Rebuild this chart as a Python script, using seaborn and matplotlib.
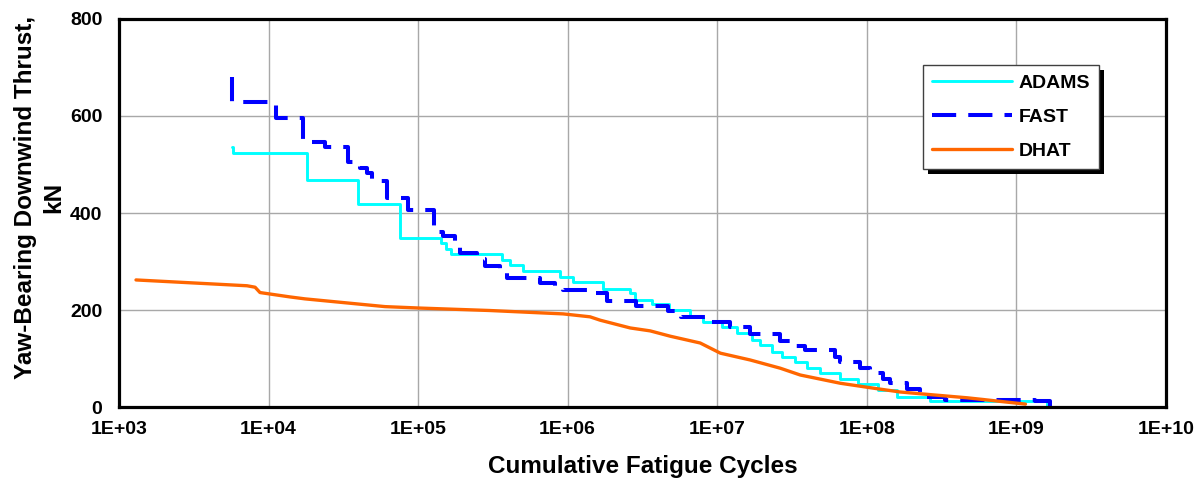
import matplotlib
matplotlib.use("Agg")
import matplotlib.pyplot as plt
import seaborn as sns
from matplotlib.patches import Rectangle
from matplotlib.transforms import IdentityTransform

# ---------------- data ----------------
adams_cycles = [5.70e3, 5.80e3, 1.81e4, 3.97e4, 7.59e4, 1.43e5, 1.54e5, 1.66e5, 3.65e5, 4.12e5,
                5.04e5, 8.90e5, 1.09e6, 1.73e6, 2.62e6, 2.83e6, 3.67e6, 4.77e6, 6.59e6, 8.05e6,
                1.08e7, 1.36e7, 1.71e7, 1.94e7, 2.33e7, 2.72e7, 3.33e7, 4.00e7, 4.89e7, 6.65e7,
                8.78e7, 1.18e8, 1.60e8, 2.66e8, 1.61e9]
adams_thrust = [536, 524, 468, 419, 348, 338, 325, 316, 303, 293,
                280, 268, 258, 243, 235, 221, 212, 200, 186, 175,
                164, 152, 138, 128, 114, 104, 92, 81, 70, 58,
                47, 35, 21, 12, 0]

fast_cycles = [5.70e3, 5.71e3, 1.12e4, 1.70e4, 2.39e4, 3.40e4, 4.09e4, 4.56e4, 4.92e4, 6.21e4,
               8.57e4, 1.28e5, 1.34e5, 1.47e5, 1.77e5, 1.91e5, 2.48e5, 2.81e5, 3.53e5, 3.94e5,
               6.55e5, 8.24e5, 9.33e5, 1.46e6, 1.84e6, 2.87e6, 4.70e6, 5.74e6, 8.32e6, 1.22e7,
               1.66e7, 2.64e7, 3.22e7, 3.88e7, 6.15e7, 6.65e7, 9.06e7, 1.05e8, 1.29e8, 1.44e8,
               1.87e8, 2.28e8, 3.35e8, 1.34e9, 1.69e9]
fast_thrust = [680, 629, 596, 546, 536, 505, 493, 482, 466, 431,
               406, 371, 361, 352, 334, 317, 305, 291, 278, 266,
               256, 248, 241, 235, 219, 208, 198, 186, 175, 165,
               150, 136, 126, 117, 104, 93, 81, 70, 58, 49,
               37, 21, 14, 12, 0]

dhat_cycles = [1.30e3, 7.18e3, 8.13e3, 8.77e3, 1.39e4, 1.75e4, 6.01e4, 1.03e5, 3.0e5, 9.33e5,
               1.41e6, 1.65e6, 2.62e6, 3.56e6, 4.85e6, 7.69e6, 1.05e7, 1.66e7, 2.64e7, 3.59e7,
               6.65e7, 1.10e8, 1.67e8, 2.79e8, 4.70e8, 1.15e9]
dhat_thrust = [262, 250, 247, 236, 227, 223, 207, 204, 199, 192,
               186, 179, 163, 157, 146, 132, 111, 97, 80, 66,
               49, 39, 31, 25, 19, 6]

series_labels = ["ADAMS", "FAST", "DHAT"]
x_ticks = [1e3, 1e4, 1e5, 1e6, 1e7, 1e8, 1e9, 1e10]
x_tick_labels = ["1E+03", "1E+04", "1E+05", "1E+06", "1E+07", "1E+08", "1E+09", "1E+10"]
y_ticks = [0, 200, 400, 600, 800]
x_label = "Cumulative Fatigue Cycles"
y_label = "Yaw-Bearing Downwind Thrust,\nkN"

# ---------------- style ----------------
sns.set_theme(style="white")
plt.rcParams['font.family'] = ['Liberation Sans', 'DejaVu Sans']
plt.rcParams['font.weight'] = 'bold'
plt.rcParams['text.color'] = 'black'
plt.rcParams['axes.labelcolor'] = 'black'

FS = 14
LFS = 17.5

fig = plt.figure(figsize=(12.04, 4.83), dpi=100)
ax = fig.add_axes([0.0988, 0.1573, 0.8696, 0.8034])

sns.lineplot(x=adams_cycles, y=adams_thrust, ax=ax, color="#00FFFF", lw=2.1,
             drawstyle="steps-post", estimator=None, sort=False, label=series_labels[0])
sns.lineplot(x=fast_cycles, y=fast_thrust, ax=ax, color="#0000FF", lw=2.9,
             drawstyle="steps-post", estimator=None, sort=False, label=series_labels[1],
             linestyle=(0, (6, 3)))
sns.lineplot(x=dhat_cycles, y=dhat_thrust, ax=ax, color="#FF6600", lw=2.4,
             estimator=None, sort=False, label=series_labels[2])

ax.set_xscale("log")
ax.set_xlim(x_ticks[0], x_ticks[-1])
ax.set_ylim(y_ticks[0], y_ticks[-1])
ax.set_xticks(x_ticks)
ax.set_xticklabels(x_tick_labels)
ax.xaxis.set_minor_locator(matplotlib.ticker.NullLocator())
ax.set_yticks(y_ticks)
ax.set_yticklabels([str(v) for v in y_ticks])
ax.tick_params(axis="both", length=0, labelsize=FS, colors="black")
ax.tick_params(axis="x", pad=10)
ax.tick_params(axis="y", pad=12)
for lab in ax.get_xticklabels() + ax.get_yticklabels():
    lab.set_fontweight("bold")

ax.grid(True, which="major", color="#A8A8A8", lw=1.0)
ax.set_axisbelow(True)
for sp in ax.spines.values():
    sp.set_color("black")
    sp.set_linewidth(2.3)
    sp.set_zorder(3)

ax.set_xlabel(x_label, fontsize=LFS, fontweight="bold", va="center", color="black")
ax.xaxis.set_label_coords(0.5, -0.152)
ax.set_ylabel(y_label, fontsize=LFS, fontweight="bold", va="center", linespacing=1.3, color="black")
ax.yaxis.set_label_coords(-0.0754, 0.539)

leg = ax.legend(loc="upper left", bbox_to_anchor=(0.768, 0.881), borderaxespad=0,
                fontsize=FS, frameon=True, fancybox=False, framealpha=1,
                edgecolor="#404040", handlelength=4.1, handletextpad=0.35,
                labelspacing=0.85, borderpad=0.45)
leg.get_frame().set_linewidth(1.0)
for t in leg.get_texts():
    t.set_fontweight("bold")
    t.set_color("black")

fig.canvas.draw()
bb = leg.get_window_extent(fig.canvas.get_renderer())
shadow = Rectangle((bb.x0 + 5, bb.y0 - 5), bb.width, bb.height, transform=IdentityTransform(),
                   facecolor="black", edgecolor="none", zorder=leg.get_zorder() - 0.1, clip_on=False)
ax.add_artist(shadow)

fig.savefig("out.png", dpi=100, facecolor="white")
